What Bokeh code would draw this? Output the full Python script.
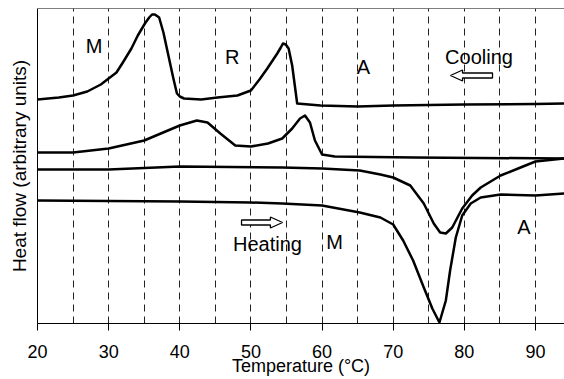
from bokeh.plotting import figure
from bokeh.models import FixedTicker, Span, Label, Range1d
from bokeh.embed import file_html
from bokeh.resources import INLINE

# Temperature (°C) and heat flow (arbitrary units)
cool1_t = [20, 23, 25, 27, 28.9, 30, 31.1, 32.0, 33.2, 34.1, 35.1, 35.7, 36.1, 36.5, 37.1, 37.7,
           38.4, 39.1, 39.6, 40.0, 40.6, 43.0, 45.3, 48.1, 50.0, 51.2, 52.3, 53.7, 54.2, 54.5,
           54.9, 55.3, 55.8, 56.3, 56.5, 59.8, 65, 70, 80, 90, 94.1]
cool1_q = [224, 226, 228, 232, 239, 245, 251, 261, 275, 288, 300, 306, 309, 309, 306, 291,
           268, 245, 230, 227, 225, 224, 226, 228, 233, 244, 255, 270, 276, 280,
           279, 275, 258, 231, 220, 218, 217, 218, 219, 219.5, 220]

cool2_t = [20, 25, 30, 35, 40, 42.4, 43.9, 45.7, 47.8, 50, 52.4, 54.4, 55.8, 56.9, 57.6, 58.3,
           59.0, 60.0, 61.8, 73, 94.1]
cool2_q = [171, 171, 175, 183, 198, 203, 201, 190, 178, 177, 180, 185, 195, 205, 208, 201,
           183, 169, 167, 166, 165]

heat1_t = [20, 30, 40, 54.4, 60, 65.3, 68.2, 70.0, 72.4, 74.3, 75.7, 76.6, 77.4, 78.3, 79.7,
           81.1, 82.3, 85.1, 87.9, 90.0, 94.1]
heat1_q = [154, 154, 157, 156, 155, 153, 149, 146, 138, 120, 100, 91, 90, 96, 115,
           128, 136, 148, 156, 162, 165]

heat2_t = [20, 30, 40, 50, 54.4, 60, 65.3, 68.2, 70.0, 71.4, 72.8, 74.3, 75.5, 76.5, 77.4, 78.0,
           78.8, 79.7, 80.9, 82.3, 85.1, 90.0, 94.1]
heat2_q = [123, 122.5, 122, 121, 120, 118, 111, 106, 99, 83, 63, 36, 15, 1, 23, 53,
           86, 108, 120, 126, 129, 128, 130]

x_ticks = [20, 30, 40, 50, 60, 70, 80, 90]
grid_ticks = [25, 30, 35, 40, 45, 50, 55, 60, 65, 70, 75, 80, 85, 90]

FONT = "Liberation Sans"

p = figure(width=564, height=379, output_backend="svg", toolbar_location=None,
           x_range=Range1d(20, 94.08), y_range=Range1d(0, 315))
p.frame_width = 527
p.frame_height = 315
p.min_border_left = 37
p.min_border_right = 0
p.min_border_top = 8
p.min_border_bottom = 56
p.outline_line_color = None
p.background_fill_color = "white"
p.border_fill_color = "white"

p.ygrid.visible = False
p.xgrid.ticker = FixedTicker(ticks=grid_ticks)
p.xgrid.grid_line_color = "#222222"
p.xgrid.grid_line_dash = "7 5"
p.xgrid.grid_line_width = 1

p.xaxis.ticker = FixedTicker(ticks=x_ticks)
p.xaxis.major_tick_out = 7
p.xaxis.major_tick_in = 0
p.xaxis.minor_tick_line_color = None
p.xaxis.axis_line_color = "black"
p.xaxis.major_tick_line_color = "black"
p.xaxis.major_label_text_font = FONT
p.xaxis.major_label_text_font_size = "18px"
p.xaxis.major_label_text_color = "black"
p.xaxis.major_label_standoff = 14
p.xaxis.axis_label = "Temperature (°C)"
p.xaxis.axis_label_text_font = FONT
p.xaxis.axis_label_text_font_size = "18px"
p.xaxis.axis_label_text_font_style = "normal"
p.xaxis.axis_label_text_color = "black"
p.xaxis.axis_label_standoff = -5

p.yaxis.ticker = FixedTicker(ticks=[])
p.yaxis.minor_tick_line_color = None
p.yaxis.major_tick_line_color = None
p.yaxis.axis_line_color = "black"
p.yaxis.axis_label = "Heat flow (arbitrary units)"
p.yaxis.axis_label_text_font = FONT
p.yaxis.axis_label_text_font_size = "19px"
p.yaxis.axis_label_text_font_style = "normal"
p.yaxis.axis_label_text_color = "black"
p.yaxis.axis_label_standoff = 8

p.add_layout(Span(location=315, dimension="width", line_color="black", line_width=1))

for t, q in [(cool1_t, cool1_q), (cool2_t, cool2_q), (heat1_t, heat1_q), (heat2_t, heat2_q)]:
    p.line(t, q, line_color="black", line_width=2.5, line_join="round")

# labels
for txt, x, y in [("M", 27.94, 278), ("R", 47.37, 266.5), ("A", 65.83, 256.5), ("Cooling", 82.06, 266.5),
                  ("Heating", 52.33, 80), ("M", 61.75, 82), ("A", 88.39, 96.5)]:
    p.add_layout(Label(x=x, y=y, text=txt, text_font=FONT, text_font_size="20px",
                       text_align="center", text_baseline="alphabetic", text_color="black"))

# hollow block arrows
def hollow_arrow(x_tail, x_tip, yc):
    d = 1 if x_tip > x_tail else -1
    head = 1.7 * d
    xs = [x_tail, x_tip - head, x_tip - head, x_tip, x_tip - head, x_tip - head, x_tail]
    ys = [yc - 2.5, yc - 2.5, yc - 5.5, yc, yc + 5.5, yc + 2.5, yc + 2.5]
    p.patch(xs, ys, fill_color="white", line_color="black", line_width=1.3)

hollow_arrow(83.96, 78.05, 248)
hollow_arrow(48.68, 54.44, 101)

open("out.html", "w").write(file_html(p, INLINE))
